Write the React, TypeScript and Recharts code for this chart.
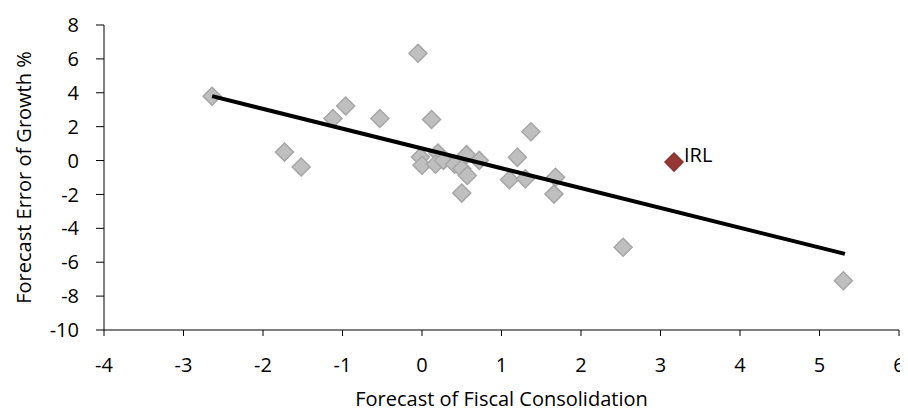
import { ScatterChart, Scatter, XAxis, YAxis, Label } from "recharts";

// Forecast of fiscal consolidation (x) vs forecast error of growth (y), one point per country
const consolidation = [
  -2.64, -0.96, -1.12, -0.53, -1.73, -1.52, -0.05, 0.12, 1.37, 1.2, -0.02, 0.0, 0.2, 0.17,
  0.27, 0.41, 0.56, 0.5, 0.57, 0.72, 0.5, 1.1, 1.3, 1.68, 1.66, 2.53, 5.3,
];
const growthError = [
  3.8, 3.22, 2.48, 2.48, 0.5, -0.38, 6.33, 2.42, 1.7, 0.19, 0.21, -0.28, 0.44, -0.22,
  0.01, -0.22, 0.35, -0.48, -0.88, 0.01, -1.92, -1.13, -1.07, -0.99, -1.98, -5.12, -7.09,
];

// Ireland, highlighted
const irlX = [3.17];
const irlY = [-0.09];
const irlLabel = ["IRL"];

// fitted trend line end points
const trendX = [-2.64, 5.32];
const trendY = [3.8, -5.51];

const xTicks = [-4, -3, -2, -1, 0, 1, 2, 3, 4, 5, 6];
const yTicks = [-10, -8, -6, -4, -2, 0, 2, 4, 6, 8];

const others = consolidation.map((x, i) => ({ x, y: growthError[i] }));
const irl = irlX.map((x, i) => ({ x, y: irlY[i], name: irlLabel[i] }));
const trend = trendX.map((x, i) => ({ x, y: trendY[i] }));

const FONT = "'Open Sans', sans-serif";
const R = 9; // half diagonal of a diamond marker
const TOP = 17;
const PLOT_H = 305;

function Diamond(props: any) {
  const { cx, cy, fill, stroke } = props;
  if (cx == null || cy == null) return <g />;
  const d = `M${cx},${cy - R} L${cx + R},${cy} L${cx},${cy + R} L${cx - R},${cy} Z`;
  return <path d={d} fill={fill} stroke={stroke} strokeWidth={1.5} />;
}

function IrlMarker(props: any) {
  const { cx, cy, payload } = props;
  return (
    <g>
      <Diamond cx={cx} cy={cy} fill="#953735" stroke="#8c3432" />
      <text x={cx + 10} y={cy} fontSize={20} fontFamily={FONT} fill="#000">
        {payload.name}
      </text>
    </g>
  );
}

// rotated y axis title, centred on the plot height
function YTitle() {
  const x = 15;
  const y = TOP + PLOT_H / 2;
  return (
    <text
      x={x}
      y={y}
      transform={`rotate(-90 ${x} ${y})`}
      textAnchor="middle"
      dominantBaseline="central"
      fontSize={20}
      fontFamily={FONT}
      fill="#000"
    >
      Forecast Error of Growth %
    </text>
  );
}

export default function App() {
  const tickStyle = { fontSize: 20, fontFamily: FONT, fill: "#000" };
  return (
    <div style={{ fontFamily: FONT, width: 900, height: 406, marginBottom: -8 }}>
      <ScatterChart
        width={900}
        height={406}
        margin={{ top: TOP, right: 9, bottom: 0, left: 0 }}
        style={{ overflow: "visible" }}
      >
        <XAxis
          type="number"
          dataKey="x"
          domain={[-4, 6]}
          ticks={xTicks}
          interval={0}
          height={84}
          tickSize={6}
          tickMargin={22}
          tick={tickStyle}
          stroke="#000"
          allowDataOverflow
        >
          <Label
            value="Forecast of Fiscal Consolidation"
            position="insideBottom"
            offset={8}
            style={{ fontSize: 20, fontFamily: FONT, fill: "#000" }}
          />
        </XAxis>
        <YAxis
          type="number"
          dataKey="y"
          domain={[-10, 8]}
          ticks={yTicks}
          interval={0}
          width={96}
          tickSize={8}
          tickMargin={17}
          tick={tickStyle}
          stroke="#000"
          allowDataOverflow
        >
          <Label content={YTitle} />
        </YAxis>
        <Scatter
          data={others}
          fill="#bfbfbf"
          stroke="#a6a6a6"
          shape={(p: any) => <Diamond {...p} fill="#bfbfbf" stroke="#a6a6a6" />}
          isAnimationActive={false}
        />
        <Scatter data={irl} fill="#953735" shape={IrlMarker} isAnimationActive={false} />
        <Scatter
          data={trend}
          line={{ stroke: "#000", strokeWidth: 4 }}
          lineType="joint"
          shape={() => <g />}
          isAnimationActive={false}
        />
      </ScatterChart>
    </div>
  );
}
